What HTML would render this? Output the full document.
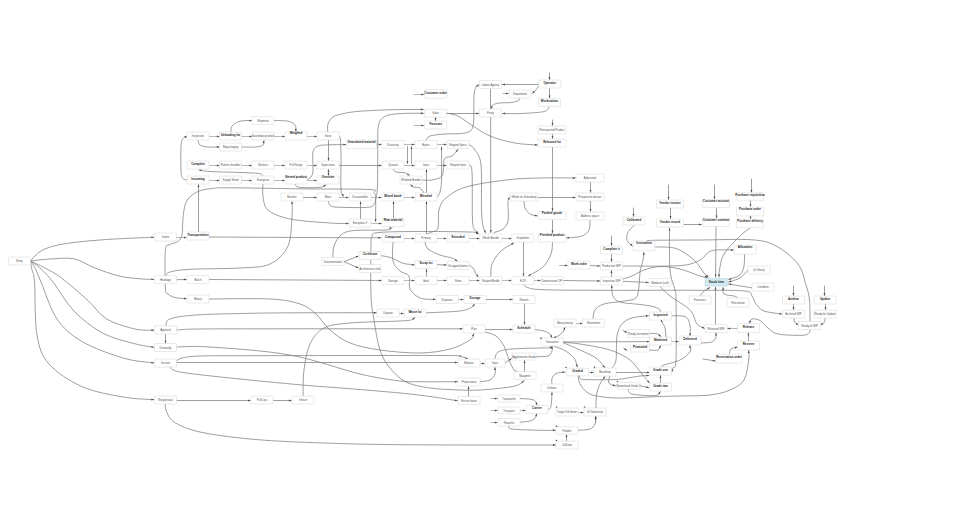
<!DOCTYPE html>
<html lang="en">
<head>
<meta charset="utf-8">
<title>Process flow graph</title>
<style>
html,body{margin:0;padding:0;background:#ffffff;}
body{width:978px;height:512px;overflow:hidden;font-family:"Liberation Sans",sans-serif;}
svg{display:block;}
svg text{font-family:"Liberation Sans",sans-serif;font-size:2.7px;fill:#4e4e4e;text-anchor:middle;}
svg text.b{font-weight:bold;font-size:3px;fill:#1c1c1c;}
</style>
</head>
<body>
<svg width="978" height="512" viewBox="0 0 978 512">
<g fill="none" stroke="#7d7d7d" stroke-width="0.75" stroke-linecap="round">
<path d="M30.5 261C32.25 259.33 35.83 253.78 41 251C46.17 248.22 51.25 246.17 61.5 244.3C71.75 242.43 87.08 240.98 102.5 239.8C117.92 238.62 145.42 237.63 154 237.2"/>
<path d="M30.5 261C33.75 260.67 42.75 259.37 50 259C57.25 258.63 66.67 257.37 74 258.8C81.33 260.23 86.5 264.73 94 267.6C101.5 270.47 111.33 274.13 119 276C126.67 277.87 134.17 278.22 140 278.8C145.83 279.38 151.67 279.38 154 279.5"/>
<path d="M30.5 261C32.92 262.17 39.83 265.17 45 268C50.17 270.83 54.33 272.58 61.5 278C68.67 283.42 80.48 293.67 88 300.5C95.52 307.33 98.77 314.25 106.6 319C114.43 323.75 127.1 327.13 135 329C142.9 330.87 150.83 330 154 330.2"/>
<path d="M30.5 261C32.08 262.17 36.25 264.5 40 268C43.75 271.5 47.33 274.83 53 282C58.67 289.17 65.75 302.5 74 311C82.25 319.5 92.33 327.53 102.5 333C112.67 338.47 126.42 341.42 135 343.8C143.58 346.18 150.83 346.72 154 347.3"/>
<path d="M30.5 261C31.25 262.17 33.25 264.5 35 268C36.75 271.5 37.33 273.5 41 282C44.67 290.5 50.17 309.08 57 319C63.83 328.92 71 335 82 341.5C93 348 111 354.42 123 358C135 361.58 148.83 362.17 154 363"/>
<path d="M30.5 261C30.75 262.5 31.33 266.5 32 270C32.67 273.5 33.67 271.17 34.5 282C35.33 292.83 34.58 321.33 37 335C39.42 348.67 41.5 355.4 49 364C56.5 372.6 69.67 381.1 82 386.6C94.33 392.1 111 394.82 123 397C135 399.18 148.83 399.25 154 399.7"/>
<path stroke="#a2a2a2" d="M176.5 237.5L186.5 237.5"/>
<path d="M198.5 232L198.5 184.5"/>
<path d="M209 237C224.17 237.08 271.33 237.37 300 237.5C328.67 237.63 367.5 237.75 381 237.8"/>
<path d="M176.5 279.7L186.5 279.5"/>
<path d="M209 279.5C224.17 279.58 271.25 279.83 300 280C328.75 280.17 367.92 280.42 381.5 280.5"/>
<path d="M166 275.7C166.67 275.08 166 273.07 170 272C174 270.93 178.33 269.97 190 269.3C201.67 268.63 226.67 268.88 240 268C253.33 267.12 262 267.67 270 264C278 260.33 284.33 254 288 246C291.67 238 291.33 223.42 292 216C292.67 208.58 292 203.92 292 201.5"/>
<path d="M328 201C328.5 201.83 329 204.95 331 206C333 207.05 333.83 207.08 340 207.3C346.17 207.52 362.33 207.85 368 207.3C373.67 206.75 372.67 205.55 374 204C375.33 202.45 375.42 201.17 376 198C376.58 194.83 377.2 194.67 377.5 185C377.8 175.33 377.72 149.33 377.8 140C377.88 130.67 377.6 132.25 378 129C378.4 125.75 378.82 122.72 380.2 120.5C381.58 118.28 383.5 116.82 386.3 115.7C389.1 114.58 393.05 114.2 397 113.8C400.95 113.4 405.58 113.38 410 113.3C414.42 113.22 421.25 113.3 423.5 113.3"/>
<path d="M375.6 221.5C375.6 217.58 375.87 202.83 375.6 198C375.33 193.17 375.1 193.92 374 192.5C372.9 191.08 381.33 190.12 369 189.5C356.67 188.88 323.17 189.08 300 188.8C276.83 188.52 244.67 187.85 230 187.8C215.33 187.75 217.33 187.88 212 188.5C206.67 189.12 202 189.75 198 191.5C194 193.25 190.33 195.92 188 199C185.67 202.08 184.9 205.67 184 210C183.1 214.33 182.93 220.83 182.6 225C182.27 229.17 182.77 232.25 182 235C181.23 237.75 180 239.92 178 241.5C176 243.08 172.1 243.08 170 244.5C167.9 245.92 166.17 242.75 165.4 250C164.63 257.25 164.97 280.67 165.4 288C165.83 295.33 166.4 292.42 168 294C169.6 295.58 171.92 296.7 175 297.5C178.08 298.3 184.58 298.58 186.5 298.8"/>
<path stroke="#a2a2a2" d="M209 136.5L219.5 136.5"/>
<path stroke="#a2a2a2" d="M241.5 136.5L252 136.5"/>
<path stroke="#a2a2a2" d="M274 136.5L285 136.5"/>
<path stroke="#a2a2a2" d="M307 136.5L317 136.5"/>
<path stroke="#a2a2a2" d="M209 165.5L219.5 165.5"/>
<path stroke="#a2a2a2" d="M241.5 165.5L252 165.5"/>
<path stroke="#a2a2a2" d="M274 165.5L285 165.5"/>
<path stroke="#a2a2a2" d="M307 165.5L317 165.5"/>
<path stroke="#a2a2a2" d="M209 180.5L219.5 180.5"/>
<path stroke="#a2a2a2" d="M241.5 180.5L252 180.5"/>
<path stroke="#a2a2a2" d="M274 180.5L285 180.5"/>
<path stroke="#a2a2a2" d="M307 180.5L317 180.5"/>
<path d="M231 132C231.17 131 230.5 127.8 232 126C233.5 124.2 236.67 122.12 240 121.2C243.33 120.28 250 120.62 252 120.5"/>
<path d="M274 120.5C276.33 120.62 284.5 120.45 288 121.2C291.5 121.95 293.67 123.28 295 125C296.33 126.72 295.83 130.42 296 131.5"/>
<path d="M198 140C198.33 140.83 198.33 143.83 200 145C201.67 146.17 204.75 146.67 208 147C211.25 147.33 217.58 147 219.5 147"/>
<path d="M241.5 147C243.92 147 252.42 147.33 256 147C259.58 146.67 261.67 146.08 263 145C264.33 143.92 263.83 141.25 264 140.5"/>
<path d="M187 180C186.25 179.67 183.5 179.67 182.5 178C181.5 176.33 181.25 175.33 181 170C180.75 164.67 180.67 151.25 181 146C181.33 140.75 182 140.17 183 138.5C184 136.83 186.33 136.42 187 136"/>
<path d="M339 165.5L381.5 165.5"/>
<path d="M263 176C262.33 175.58 262.83 174.08 259 173.5C255.17 172.92 248.17 172.83 240 172.5C231.83 172.17 216.83 171.92 210 171.5C203.17 171.08 200.83 170.25 199 170"/>
<path d="M327.7 132C327.75 130.67 327.2 126.45 328 124C328.8 121.55 330.08 119 332.5 117.3C334.92 115.6 338.25 114.78 342.5 113.8C346.75 112.82 350.25 112.07 358 111.4C365.75 110.73 378.08 110.13 389 109.8C399.92 109.47 417.75 109.47 423.5 109.4"/>
<path d="M328.5 140L328.5 160.5"/>
<path d="M339 136C339.25 136.67 340.17 136 340.5 140C340.83 144 340.92 151.67 341 160C341.08 168.33 340.58 183.92 341 190C341.42 196.08 343.08 195.42 343.5 196.5"/>
<path d="M307 179.5C307.67 179.08 310 178.58 311 177C312 175.42 312.67 174.17 313 170C313.33 165.83 312.17 156 313 152C313.83 148 315.17 147.2 318 146C320.83 144.8 325.33 145.03 330 144.8C334.67 144.57 343.33 144.63 346 144.6"/>
<path d="M328.5 169.5L328.5 175.5"/>
<path d="M295 184C295.5 184.5 295.5 186.37 298 187C300.5 187.63 306 187.8 310 187.8C314 187.8 319.33 187.5 322 187C324.67 186.5 325.33 185.17 326 184.8"/>
<path d="M263 184C263 186 262.17 191.67 263 196C263.83 200.33 263.5 206.17 268 210C272.5 213.83 279.67 216.83 290 219C300.33 221.17 320.25 222.25 330 223C339.75 223.75 345.42 223.42 348.5 223.5"/>
<path d="M303 197.5L317 197.5"/>
<path stroke="#a2a2a2" d="M339 197.5L348.5 197.5"/>
<path d="M360.5 219L360.5 201.5"/>
<path stroke="#a2a2a2" d="M371 223.5L381.5 223.5"/>
<path stroke="#a2a2a2" d="M371 197.5L381.5 197.5"/>
<path d="M393.5 218.5L393.5 201.5"/>
<path stroke="#a2a2a2" d="M404 197.5L414.5 197.5"/>
<path stroke="#a2a2a2" d="M376 144.5L381.5 144.5"/>
<path stroke="#a2a2a2" d="M404 144.5L414.5 144.5"/>
<path stroke="#a2a2a2" d="M437 144.5L446.5 144.5"/>
<path stroke="#a2a2a2" d="M404 165.5L414.5 165.5"/>
<path stroke="#a2a2a2" d="M437 165.5L446.5 165.5"/>
<path d="M407.5 146.5L407.5 163.5"/>
<path d="M411.5 163.5L411.5 146.5"/>
<path d="M437 197C437.5 196.17 439.25 194.83 440 192C440.75 189.17 441.25 187.5 441.5 180C441.75 172.5 441.5 152.5 441.5 147"/>
<path d="M426.5 234L426.5 201.5"/>
<path d="M426.5 193L426.5 169.5"/>
<path d="M393 169C393.5 169.5 394 171.37 396 172C398 172.63 402.72 172.22 405 172.8C407.28 173.38 408.92 175.05 409.7 175.5"/>
<path d="M424 193C423.33 192.17 421.83 189 420 188C418.17 187 414.58 187.58 413 187C411.42 186.42 410.92 184.92 410.5 184.5"/>
<path d="M422 180C423.67 180 428.67 180.67 432 180C435.33 179.33 440.08 178.5 442 176C443.92 173.5 443 168 443.5 165C444 162 443.58 159.5 445 158C446.42 156.5 449.83 157.42 452 156C454.17 154.58 457 150.58 458 149.5"/>
<path d="M469 144.5C470 145.42 473 146.58 475 150C477 153.42 479.92 155 481 165C482.08 175 481.17 199.83 481.5 210C481.83 220.17 482.33 222.17 483 226C483.67 229.83 485.08 231.83 485.5 233"/>
<path d="M469 165C469.5 166.17 471.42 162.83 472 172C472.58 181.17 472 210.33 472.5 220C473 229.67 474.03 227.75 475 230C475.97 232.25 477.75 232.92 478.3 233.5"/>
<path stroke="#a2a2a2" d="M414 94.5L424 94.5"/>
<path stroke="#a2a2a2" d="M414 125.5L424 125.5"/>
<path d="M435.5 117.3L435.5 120.7"/>
<path d="M446 113.5L479 113.5"/>
<path d="M446 113C448 113.5 454 114.17 458 116C462 117.83 464.67 120.67 470 124C475.33 127.33 482.5 132.83 490 136C497.5 139.17 507.08 141.5 515 143C522.92 144.5 533.75 144.67 537.5 145"/>
<path d="M426 140.5C426.67 139.75 426.83 137.08 430 136C433.17 134.92 439.17 134.5 445 134C450.83 133.5 460.33 134.33 465 133C469.67 131.67 471.5 132.17 473 126C474.5 119.83 473.5 102.5 474 96C474.5 89.5 475.17 88.92 476 87C476.83 85.08 478.5 84.92 479 84.5"/>
<path d="M539.5 84.5L502.3 84.5"/>
<path d="M539.5 84.5C538.92 85.42 537.2 88.53 536 90C534.8 91.47 532.92 92.75 532.3 93.3"/>
<path stroke="#a2a2a2" d="M503 93.5L508.5 93.5"/>
<path d="M520 97.8C519.67 98.28 519.5 99.92 518 100.7C516.5 101.48 514.4 102.08 511 102.5C507.6 102.92 500.72 102.65 497.6 103.2C494.48 103.75 493.4 104.87 492.3 105.8C491.2 106.73 491.22 108.3 491 108.8"/>
<path d="M490.5 88.5L490.5 108.5"/>
<path d="M490.6 117L490.8 232.5"/>
<path d="M549.2 106.3C548.95 106.85 548.97 108.65 547.7 109.6C546.43 110.55 546.05 111.35 541.6 112C537.15 112.65 527.52 113.25 521 113.5C514.48 113.75 505.58 113.5 502.5 113.5"/>
<path d="M549.5 73L549.5 79.7"/>
<path d="M549.5 88L549.5 98.2"/>
<path d="M552.5 120L552.5 125.5"/>
<path d="M552.5 134L552.5 138.5"/>
<path d="M552.5 147.5L552.5 210.8"/>
<path d="M552.5 220L552.5 233.2"/>
<path stroke="#a2a2a2" d="M404 238.5L414.5 238.5"/>
<path stroke="#a2a2a2" d="M437 238.5L446.5 238.5"/>
<path stroke="#a2a2a2" d="M469 238.5L479.5 238.5"/>
<path stroke="#a2a2a2" d="M502 238.5L511.5 238.5"/>
<path d="M426 234C427 233.67 430 233 432 232C434 231 436.83 231.67 438 228C439.17 224.33 437.67 215 439 210C440.33 205 441.5 201.83 446 198C450.5 194.17 456 190 466 187C476 184 493.67 181.5 506 180C518.33 178.5 528.42 178.33 540 178C551.58 177.67 569.58 178 575.5 178"/>
<path d="M494 232.5C495.5 231.92 500.67 230.92 503 229C505.33 227.08 507.17 225.17 508 221C508.83 216.83 507.95 207.58 508 204C508.05 200.42 507.97 200.62 508.3 199.5C508.63 198.38 509.72 197.67 510 197.3"/>
<path d="M538 197.5L575.5 197.5"/>
<path d="M524 201C524.17 202.17 524 205.83 525 208C526 210.17 527.92 212.67 530 214C532.08 215.33 536.25 215.67 537.5 216"/>
<path d="M590.5 182L590.5 192.5"/>
<path d="M590.5 201L590.5 211.5"/>
<path d="M590 220C589.83 221.67 590.33 227.33 589 230C587.67 232.67 585.75 234.67 582 236C578.25 237.33 569.08 237.67 566.5 238"/>
<path d="M552.5 242.5C552.25 244.42 552.58 249.92 551 254C549.42 258.08 546.78 263.37 543 267C539.22 270.63 530.75 274.33 528.3 275.8"/>
<path d="M523.5 242L523.5 276"/>
<path d="M490.8 276.5C491 274.42 490.3 268.25 492 264C493.7 259.75 497.38 254.5 501 251C504.62 247.5 511.58 244.33 513.7 243"/>
<path d="M344 261.7L358.5 256"/>
<path d="M344 261.7L358.5 268"/>
<path d="M333 257.5C333.17 255.58 332.67 249.75 334 246C335.33 242.25 337.67 237.58 341 235C344.33 232.42 346.5 231.33 354 230.5C361.5 229.67 379.67 230.5 386 230C392.33 229.5 391 227.92 392 227.5"/>
<path d="M381 255.6C382.83 256 388.5 256.77 392 258C395.5 259.23 398.25 261.83 402 263C405.75 264.17 412.42 264.67 414.5 265"/>
<path d="M393 242C393 245.17 391.83 256.17 393 261C394.17 265.83 397.33 268.5 400 271C402.67 273.5 407.33 273 409 276C410.67 279 408.17 285.33 410 289C411.83 292.67 415.75 296.25 420 298C424.25 299.75 432.92 299.25 435.5 299.5"/>
<path d="M478.5 233.7C477.08 233.42 480.58 232.37 470 232C459.42 231.63 430.5 231.38 415 231.5C399.5 231.62 384.17 231.78 377 232.7C369.83 233.62 373 234.95 372 237C371 239.05 371.17 235.33 371 245C370.83 254.67 370.5 282.5 371 295C371.5 307.5 372.5 310.83 374 320C375.5 329.17 377.33 342 380 350C382.67 358 385.67 362.67 390 368C394.33 373.33 399.33 378.67 406 382C412.67 385.33 421 386.67 430 388C439 389.33 451.67 389.67 460 390C468.33 390.33 471.67 390.5 480 390C488.33 389.5 503.17 388.08 510 387C516.83 385.92 518.67 384.58 521 383.5C523.33 382.42 523.5 381 524 380.5"/>
<path stroke="#a2a2a2" d="M404 280.5L414.5 280.5"/>
<path stroke="#a2a2a2" d="M437 280.5L446.5 280.5"/>
<path stroke="#a2a2a2" d="M469 280.5L479.5 280.5"/>
<path stroke="#a2a2a2" d="M502 280.5L511.5 280.5"/>
<path stroke="#a2a2a2" d="M534 280.5L540.5 280.5"/>
<path d="M563.5 280.5L600 281"/>
<path d="M426.5 276.5L426.5 269"/>
<path d="M437 264.7L446.5 265"/>
<path d="M425 242C425.5 243.17 425.5 246.83 428 249C430.5 251.17 436 253.5 440 255C444 256.5 449.08 257 452 258C454.92 259 456.58 260.5 457.5 261"/>
<path d="M469 265.3C469.67 265.75 471.83 266.55 473 268C474.17 269.45 475.08 272.5 476 274C476.92 275.5 478.08 276.5 478.5 277"/>
<path d="M523.6 284.5C524.25 285 524.27 286.63 527.5 287.5C530.73 288.37 530.92 289.23 543 289.7C555.08 290.17 573.83 290.2 600 290.3C626.17 290.4 675.83 290.18 700 290.3C724.17 290.42 736.33 290.05 745 291C753.67 291.95 750.17 293.83 752 296C753.83 298.17 754 301.5 756 304C758 306.5 759.67 309.33 764 311C768.33 312.67 779 313.5 782 314"/>
<path stroke="#a2a2a2" d="M458 299.5L463.5 299.5"/>
<path d="M486 299.5L512.5 299.5"/>
<path d="M524.5 303.5L524.5 324.5"/>
<path d="M166 326C166.67 324.83 165 320.83 170 319C175 317.17 182.67 315.95 196 315C209.33 314.05 232.67 313.67 250 313.3C267.33 312.93 278.92 312.9 300 312.8C321.08 312.7 363.75 312.72 376.5 312.7"/>
<path stroke="#a2a2a2" d="M399 313.5L403.5 313.5"/>
<path d="M426 312.8C431.67 312.5 452.33 311.97 460 311C467.67 310.03 469.55 308.17 472 307C474.45 305.83 474.25 304.5 474.7 304"/>
<path d="M303 396C303.17 391.67 302.83 378.67 304 370C305.17 361.33 306.67 351 310 344C313.33 337 317.33 331.5 324 328C330.67 324.5 337.33 324.17 350 323C362.67 321.83 389.67 321.55 400 321C410.33 320.45 409.5 320.32 412 319.7C414.5 319.08 414.5 317.7 415 317.3"/>
<path d="M176.5 330C180.42 329.83 179.42 329.2 200 329C220.58 328.8 256.25 328.83 300 328.8C343.75 328.77 435.42 328.8 462.5 328.8"/>
<path d="M485 329.5L512.5 329.5"/>
<path d="M209 299C219.17 299 254.83 298.17 270 299C285.17 299.83 292.33 301.5 300 304C307.67 306.5 311 309.67 316 314C321 318.33 324.33 325.17 330 330C335.67 334.83 341.67 339.67 350 343C358.33 346.33 368.33 348.33 380 350C391.67 351.67 408.33 353.17 420 353C431.67 352.83 441.67 351.17 450 349C458.33 346.83 466 342.53 470 340C474 337.47 473.33 334.83 474 333.8"/>
<path d="M165.5 334L165.5 343.3"/>
<path d="M176.5 347C182.08 347 191.08 345.67 210 347C228.92 348.33 265 350.5 290 355C315 359.5 341.67 369.67 360 374C378.33 378.33 390 379.72 400 381C410 382.28 410.42 381.58 420 381.7C429.58 381.82 451.25 381.7 457.5 381.7"/>
<path d="M176 361.5C177 360.92 178 358.92 182 358C186 357.08 188.67 356.38 200 356C211.33 355.62 210 355.78 250 355.7C290 355.62 405 355.37 440 355.5C475 355.63 455.33 355.95 460 356.5C464.67 357.05 466.67 358.42 468 358.8"/>
<path d="M176.5 362.5L457.5 362.5"/>
<path d="M170 367C171.67 367.83 170 370.17 180 372C190 373.83 209.67 375.83 230 378C250.33 380.17 282.67 383.27 302 385C321.33 386.73 329.67 387.07 346 388.4C362.33 389.73 386 391.65 400 393C414 394.35 420.42 395.2 430 396.5C439.58 397.8 452.92 400.08 457.5 400.8"/>
<path d="M176.5 400.5L250.5 400.5"/>
<path d="M273 400.5L291.5 400.5"/>
<path d="M165.5 404C165.58 405 164.58 407 166 410C167.42 413 168.33 418.33 174 422C179.67 425.67 187.33 429.17 200 432C212.67 434.83 231.67 437.25 250 439C268.33 440.75 285 441.55 310 442.5C335 443.45 359.08 444.28 400 444.7C440.92 445.12 529.58 444.95 555.5 445"/>
<path d="M485 332C486.83 332.67 492.83 333.67 496 336C499.17 338.33 501.83 342 504 346C506.17 350 507.33 356 509 360C510.67 364 512.58 367.92 514 370C515.42 372.08 516.92 372.08 517.5 372.5"/>
<path d="M535 329.5C536.5 329.75 541.5 330.25 544 331C546.5 331.75 548.67 332.87 550 334C551.33 335.13 551.67 337.17 552 337.8"/>
<path d="M565 327.3C564.67 328.08 564.17 330.55 563 332C561.83 333.45 559.58 335 558 336C556.42 337 554.25 337.67 553.5 338"/>
<path stroke="#a2a2a2" d="M576 323.5L582.5 323.5"/>
<path d="M563 342L649.5 341.6"/>
<path d="M563 342.3C565.83 342.58 572.17 342.72 580 344C587.83 345.28 601.67 347.33 610 350C618.33 352.67 624.67 356 630 360C635.33 364 638.75 370.17 642 374C645.25 377.83 648.25 381.5 649.5 383"/>
<path d="M563 342.6C565.83 343.83 574.5 347.43 580 350C585.5 352.57 591.83 355.03 596 358C600.17 360.97 603.5 366.17 605 367.8"/>
<path d="M495 359C495.5 357.83 495.17 353.67 498 352C500.83 350.33 505 349.67 512 349C519 348.33 533.67 348.2 540 348C546.33 347.8 548 348.08 550 347.8C552 347.52 551.67 346.55 552 346.3"/>
<path d="M536 356.7C538 356.58 545.33 356.95 548 356C550.67 355.05 551.33 352.62 552 351C552.67 349.38 552 347.08 552 346.3"/>
<path d="M554 346.5C555.67 347.08 560.67 348.08 564 350C567.33 351.92 571.77 355.17 574 358C576.23 360.83 576.83 365.5 577.4 367"/>
<path stroke="#a2a2a2" d="M480 363.5L484.5 363.5"/>
<path d="M505 363L511.6 358.5"/>
<path d="M524.5 371.5L524.5 360.3"/>
<path d="M480 381.7C481.67 381.42 487.5 381.28 490 380C492.5 378.72 494.17 376.12 495 374C495.83 371.88 495 368.42 495 367.3"/>
<path d="M468.5 396.5L468.5 386.3"/>
<path stroke="#a2a2a2" d="M491 398.5L497.5 398.5"/>
<path stroke="#a2a2a2" d="M491 410.5L497.5 410.5"/>
<path stroke="#a2a2a2" d="M491 422.5L497.5 422.5"/>
<path d="M520 398.5C522 398.67 529.33 398.92 532 399.5C534.67 400.08 535.17 401.03 536 402C536.83 402.97 536.83 404.75 537 405.3"/>
<path stroke="#a2a2a2" d="M520 410.5L525.5 410.5"/>
<path d="M520 422.3C521.67 422.08 527.5 421.72 530 421C532.5 420.28 533.83 419.2 535 418C536.17 416.8 536.67 414.5 537 413.8"/>
<path d="M548 410C548.5 409.33 550.33 408.95 551 406C551.67 403.05 551.83 394.58 552 392.3"/>
<path d="M552 384C552 383.08 551.33 380.25 552 378.5C552.67 376.75 553.83 374.58 556 373.5C558.17 372.42 563.5 372.25 565 372"/>
<path d="M509 426.3C509.5 426.75 506.83 428.33 512 429C517.17 429.67 532.75 430.08 540 430.3C547.25 430.52 552.92 430.3 555.5 430.3"/>
<path d="M578 430.3C580 430.08 587.17 430.05 590 429C592.83 427.95 594 426.12 595 424C596 421.88 595.83 417.58 596 416.3"/>
<path d="M566.5 441L566.5 434.5"/>
<path stroke="#a2a2a2" d="M578 412.5L583.5 412.5"/>
<path d="M595.5 422L595.5 416.3"/>
<path d="M596 408C596.08 405.83 595.83 399 596.5 395C597.17 391 598.58 387.12 600 384C601.42 380.88 604.17 377.58 605 376.3"/>
<path stroke="#a2a2a2" d="M589 372.5L593.5 372.5"/>
<path d="M578 374.8C578.33 376.33 578.33 380.97 580 384C581.67 387.03 584.67 390.92 588 393C591.33 395.08 594.67 395.67 600 396.5C605.33 397.33 610 398 620 398C630 398 650 396.83 660 396.5C670 396.17 671.67 396.25 680 396C688.33 395.75 701.67 396 710 395C718.33 394 724.33 392.5 730 390C735.67 387.5 740.88 385 744 380C747.12 375 747.92 364.95 748.7 360C749.48 355.05 748.7 351.92 748.7 350.3"/>
<path d="M616 372.5L649.5 372.5"/>
<path d="M579.3 375.5C579.55 376.08 579.02 378.3 580.8 379C582.58 379.7 584.13 379.62 590 379.7C595.87 379.78 609.33 379.85 616 379.5C622.67 379.15 626 378.18 630 377.6C634 377.02 636.83 376.35 640 376C643.17 375.65 647.5 375.58 649 375.5"/>
<path d="M612 368C612.67 366.67 615.17 365.33 616 360C616.83 354.67 616 342 617 336C618 330 619.5 327 622 324C624.5 321 627.58 319.38 632 318C636.42 316.62 645.75 316.08 648.5 315.7"/>
<path d="M610 376C609.75 377 608.17 380.5 608.5 382C608.83 383.5 610.82 384.38 612 385C613.18 385.62 615 385.58 615.6 385.7"/>
<path d="M640 385.8L649 387.7"/>
<path d="M628 389.3C628.67 390.08 628.33 392.93 632 394C635.67 395.07 645.67 395.53 650 395.7C654.33 395.87 656.28 395.7 658 395C659.72 394.3 659.92 392.08 660.3 391.5"/>
<path d="M660.5 383L660.5 375.5"/>
<path d="M661 367C661.5 366.67 660.83 366.17 664 365C667.17 363.83 675.67 362.17 680 360C684.33 357.83 688.33 354.45 690 352C691.67 349.55 690 346.42 690 345.3"/>
<path d="M671.8 372C672 371.33 672.3 370 673 368C673.7 366 675.5 371.33 676 360C676.5 348.67 676.17 311.67 676 300C675.83 288.33 676 295 675 290C674 285 670.92 280.33 670 270C669.08 259.67 669.58 235 669.5 228"/>
<path d="M623 330.5L627 332.6"/>
<path d="M650 333.5C651.33 333.58 656.17 333.45 658 334C659.83 334.55 660.5 336.33 661 336.8"/>
<path d="M623.5 348L627 350.5"/>
<path d="M649.5 350C650.92 350 656.12 350.75 658 350C659.88 349.25 660.33 346.25 660.8 345.5"/>
<path d="M666 337C665.83 335.5 665.67 330.5 665 328C664.33 325.5 662.67 323.45 662 322C661.33 320.55 661.17 319.75 661 319.3"/>
<path stroke="#a2a2a2" d="M671.5 341.5L678.5 341.5"/>
<path d="M672 315.7C674.33 315.92 683 315.28 686 317C689 318.72 689.33 322.83 690 326C690.67 329.17 690 334.33 690 336"/>
<path d="M701 343C702.83 342.83 709.5 343 712 342C714.5 341 715.33 338.53 716 337C716.67 335.47 716 333.5 716 332.8"/>
<path d="M593 319C593.33 317.5 593.17 312.5 595 310C596.83 307.5 599.17 305.5 604 304C608.83 302.5 618.67 302 624 301C629.33 300 633.5 300.5 636 298C638.5 295.5 638.33 290.33 639 286C639.67 281.67 639.33 276.33 640 272C640.67 267.67 642.33 263.28 643 260C643.67 256.72 643.83 253.58 644 252.3"/>
<path d="M611.6 285.3C611.83 287.08 611.6 293.22 613 296C614.4 298.78 615.5 300.58 620 302C624.5 303.42 634.67 303.78 640 304.5C645.33 305.22 648.83 305.55 652 306.3C655.17 307.05 657.57 308.05 659 309C660.43 309.95 660.33 311.5 660.6 312"/>
<path d="M660 286.5C661.67 288.08 665 292.08 670 296C675 299.92 685.5 305.33 690 310C694.5 314.67 694.58 320.92 697 324C699.42 327.08 703.25 327.75 704.5 328.5"/>
<path d="M623 281.3L648.5 282.5"/>
<path d="M611.5 277L611.5 270.3"/>
<path d="M611.5 254L611.5 261.7"/>
<path d="M611.5 236L611.5 245.7"/>
<path stroke="#a2a2a2" d="M559.5 265.5L567.5 265.5"/>
<path d="M590 265.5L600 266"/>
<path d="M623 266C632.5 265.93 667.17 266.6 680 265.6C692.83 264.6 695.33 262.18 700 260C704.67 257.82 705.33 254.17 708 252.5C710.67 250.83 711.75 250.42 716 250C720.25 249.58 730.58 250 733.5 250"/>
<path d="M623 279C624.5 278.5 628.5 277.5 632 276C635.5 274.5 639.33 271.58 644 270C648.67 268.42 654 266.67 660 266.5C666 266.33 673.33 267.42 680 269C686.67 270.58 695.42 274.63 700 276C704.58 277.37 706.25 277 707.5 277.2"/>
<path d="M655 247C658.5 247.25 669.5 246.33 676 248.5C682.5 250.67 689.33 255.92 694 260C698.67 264.08 701.58 270.13 704 273C706.42 275.87 707.75 276.5 708.5 277.2"/>
<path d="M633.5 208L633.5 216.7"/>
<path d="M634.5 225.3C633.67 226.08 630.78 228.22 629.5 230C628.22 231.78 627.05 234 626.8 236C626.55 238 627.05 240.33 628 242C628.95 243.67 631.75 245.33 632.5 246"/>
<path d="M810 321.5C809.92 317.92 810.17 306.08 809.5 300C808.83 293.92 807.92 291 806 285C804.08 279 803 270.5 798 264C793 257.5 783.67 250.03 776 246C768.33 241.97 764.67 240.8 752 239.8C739.33 238.8 715.33 239.93 700 240C684.67 240.07 668.33 240.12 660 240.2C651.67 240.28 652.33 240.23 650 240.5C647.67 240.77 646.67 241.58 646 241.8"/>
<path d="M810 329.5C809.83 330.08 810.33 332.03 809 333C807.67 333.97 807.17 335.13 802 335.3C796.83 335.47 783.67 335.22 778 334C772.33 332.78 771 330.25 768 328C765 325.75 762.67 322 760 320.5C757.33 319 753.83 318.53 752 319C750.17 319.47 749.5 322.58 749 323.3"/>
<path d="M668.5 185L668.5 199.7"/>
<path d="M670.5 208L670.5 218.7"/>
<path d="M683.5 224.5L701.5 224.5"/>
<path d="M714.5 185L714.5 199.2"/>
<path d="M716.5 208L716.5 218.2"/>
<path d="M716 227L715.6 277"/>
<path d="M751.5 179L751.5 192.5"/>
<path d="M750.5 200.5L750.5 206.8"/>
<path d="M750.5 216L750.5 219.2"/>
<path d="M750 228C748.33 229.33 744.33 231.67 740 236C735.67 240.33 727.42 248.33 724 254C720.58 259.67 720.33 266.17 719.5 270C718.67 273.83 719.08 275.83 719 277"/>
<path d="M744.5 254C744.42 256 744.75 262.5 744 266C743.25 269.5 742.58 272.75 740 275C737.42 277.25 730.42 278.75 728.5 279.5"/>
<path d="M748 270C746.67 271.33 743.25 276 740 278C736.75 280 730.42 281.33 728.5 282"/>
<path d="M753 288L728.5 284"/>
<path d="M700 296C700.67 295.17 702.33 292.42 704 291C705.67 289.58 709 288.08 710 287.5"/>
<path d="M715.5 324.5L715.5 287"/>
<path d="M738 298C737.33 297.67 736.33 296.67 734 296C731.67 295.33 725.83 295.45 724 294C722.17 292.55 723.17 288.42 723 287.3"/>
<path stroke="#a2a2a2" d="M737.5 328.5L727.5 328.5"/>
<path d="M748.5 341L748.5 332.7"/>
<path d="M729.5 354C729.75 353.17 729.67 350.17 731 349C732.33 347.83 736.42 347.33 737.5 347"/>
<path d="M703 359L715.5 361"/>
<path d="M793.5 286L793.5 295.7"/>
<path d="M793.5 304L793.5 309.7"/>
<path d="M824.5 286L824.5 295.7"/>
<path d="M825.5 304L825.5 309.7"/>
<path d="M794 318C794.08 318.67 793.78 320.83 794.5 322C795.22 323.17 797.67 324.5 798.3 325"/>
<path d="M825 318C824.92 318.67 825.22 320.83 824.5 322C823.78 323.17 821.33 324.5 820.7 325"/>
</g>
<path fill="#4a4a4a" d="M154 237.2L151.45 238.28L151.36 236.38ZM154 279.5L151.36 280.32L151.45 278.42ZM154 330.2L151.35 330.98L151.47 329.09ZM154 347.3L151.27 347.76L151.62 345.89ZM154 363L151.28 363.52L151.58 361.65ZM154 399.7L151.33 400.42L151.49 398.53ZM186.5 237.5L183.9 238.45L183.9 236.55ZM198.5 184.5L199.45 187.1L197.55 187.1ZM381 237.8L378.4 238.74L378.4 236.84ZM186.5 279.5L183.92 280.5L183.88 278.6ZM381.5 280.5L378.89 281.43L378.91 279.53ZM292 201.5L292.95 204.1L291.05 204.1ZM423.5 113.3L420.9 114.25L420.9 112.35ZM186.5 298.8L183.81 299.45L184.02 297.56ZM375.6 221.5L374.65 218.9L376.55 218.9ZM219.5 136.5L216.9 137.45L216.9 135.55ZM252 136.5L249.4 137.45L249.4 135.55ZM285 136.5L282.4 137.45L282.4 135.55ZM317 136.5L314.4 137.45L314.4 135.55ZM219.5 165.5L216.9 166.45L216.9 164.55ZM252 165.5L249.4 166.45L249.4 164.55ZM285 165.5L282.4 166.45L282.4 164.55ZM317 165.5L314.4 166.45L314.4 164.55ZM219.5 180.5L216.9 181.45L216.9 179.55ZM252 180.5L249.4 181.45L249.4 179.55ZM285 180.5L282.4 181.45L282.4 179.55ZM317 180.5L314.4 181.45L314.4 179.55ZM252 120.5L249.46 121.6L249.35 119.7ZM296 131.5L294.67 129.07L296.54 128.79ZM219.5 147L216.9 147.95L216.9 146.05ZM264 140.5L264.36 143.24L262.51 142.83ZM187 136L185.3 138.18L184.29 136.57ZM381.5 165.5L378.9 166.45L378.9 164.55ZM199 170L201.7 169.41L201.45 171.29ZM423.5 109.4L420.91 110.38L420.89 108.48ZM328.5 160.5L327.55 157.9L329.45 157.9ZM343.5 196.5L341.68 194.41L343.45 193.73ZM346 144.6L343.41 145.58L343.39 143.68ZM328.5 175.5L327.55 172.9L329.45 172.9ZM328.5 169.5L329.45 172.1L327.55 172.1ZM326 184.8L324.18 186.89L323.26 185.22ZM348.5 223.5L345.88 224.38L345.93 222.48ZM317 197.5L314.4 198.45L314.4 196.55ZM348.5 197.5L345.9 198.45L345.9 196.55ZM360.5 201.5L361.45 204.1L359.55 204.1ZM381.5 223.5L378.9 224.45L378.9 222.55ZM381.5 197.5L378.9 198.45L378.9 196.55ZM393.5 201.5L394.45 204.1L392.55 204.1ZM414.5 197.5L411.9 198.45L411.9 196.55ZM381.5 144.5L378.9 145.45L378.9 143.55ZM414.5 144.5L411.9 145.45L411.9 143.55ZM446.5 144.5L443.9 145.45L443.9 143.55ZM414.5 165.5L411.9 166.45L411.9 164.55ZM446.5 165.5L443.9 166.45L443.9 164.55ZM407.5 163.5L406.55 160.9L408.45 160.9ZM411.5 146.5L412.45 149.1L410.55 149.1ZM441.5 147L442.45 149.6L440.55 149.6ZM426.5 201.5L427.45 204.1L425.55 204.1ZM426.5 169.5L427.45 172.1L425.55 172.1ZM409.7 175.5L406.97 175.03L407.92 173.38ZM410.5 184.5L413.01 185.67L411.67 187.01ZM458 149.5L456.93 152.05L455.54 150.77ZM485.5 233L483.73 230.87L485.52 230.23ZM478.3 233.5L475.83 232.26L477.21 230.96ZM424 94.5L421.4 95.45L421.4 93.55ZM424 125.5L421.4 126.45L421.4 124.55ZM435.5 120.7L434.55 118.1L436.45 118.1ZM479 113.5L476.4 114.45L476.4 112.55ZM537.5 145L534.83 145.72L534.99 143.82ZM479 84.5L477.61 86.89L476.39 85.43ZM502.3 84.5L504.9 83.55L504.9 85.45ZM532.3 93.3L533.61 90.86L534.87 92.28ZM508.5 93.5L505.9 94.45L505.9 92.55ZM491 108.8L491.16 106.04L492.91 106.79ZM490.8 232.5L489.85 229.9L491.75 229.9ZM502.5 113.5L505.1 112.55L505.1 114.45ZM549.5 79.7L548.55 77.1L550.45 77.1ZM549.5 98.2L548.55 95.6L550.45 95.6ZM552.5 125.5L551.55 122.9L553.45 122.9ZM552.5 138.5L551.55 135.9L553.45 135.9ZM552.5 210.8L551.55 208.2L553.45 208.2ZM552.5 233.2L551.55 230.6L553.45 230.6ZM414.5 238.5L411.9 239.45L411.9 237.55ZM446.5 238.5L443.9 239.45L443.9 237.55ZM479.5 238.5L476.9 239.45L476.9 237.55ZM511.5 238.5L508.9 239.45L508.9 237.55ZM575.5 178L572.9 178.95L572.9 177.05ZM510 197.3L509.16 199.94L507.66 198.78ZM575.5 197.5L572.9 198.45L572.9 196.55ZM537.5 216L534.74 216.25L535.23 214.41ZM590.5 192.5L589.55 189.9L591.45 189.9ZM590.5 211.5L589.55 208.9L591.45 208.9ZM566.5 238L568.96 236.73L569.2 238.61ZM528.3 275.8L530.04 273.65L531.02 275.28ZM523.5 276L522.55 273.4L524.45 273.4ZM513.7 243L512.01 245.19L510.99 243.58ZM358.5 256L356.43 257.84L355.73 256.07ZM358.5 268L355.74 267.84L356.49 266.09ZM392 227.5L389.97 229.38L389.23 227.62ZM414.5 265L411.78 265.53L412.08 263.65ZM435.5 299.5L432.82 300.2L433 298.3ZM524 380.5L522.83 383.01L521.49 381.67ZM478.5 233.7L475.76 234.12L476.14 232.26ZM414.5 280.5L411.9 281.45L411.9 279.55ZM446.5 280.5L443.9 281.45L443.9 279.55ZM479.5 280.5L476.9 281.45L476.9 279.55ZM511.5 280.5L508.9 281.45L508.9 279.55ZM540.5 280.5L537.9 281.45L537.9 279.55ZM600 281L597.39 281.91L597.41 280.01ZM426.5 269L427.45 271.6L425.55 271.6ZM446.5 265L443.87 265.87L443.93 263.97ZM457.5 261L454.76 260.59L455.67 258.92ZM478.5 277L476.11 275.61L477.57 274.39ZM782 314L779.28 314.51L779.59 312.64ZM463.5 299.5L460.9 300.45L460.9 298.55ZM512.5 299.5L509.9 300.45L509.9 298.55ZM524.5 324.5L523.55 321.9L525.45 321.9ZM376.5 312.7L373.9 313.65L373.9 311.75ZM403.5 313.5L400.9 314.45L400.9 312.55ZM474.7 304L473.67 306.57L472.25 305.3ZM415 317.3L413.56 319.67L412.38 318.18ZM462.5 328.8L459.9 329.75L459.9 327.85ZM512.5 329.5L509.9 330.45L509.9 328.55ZM474 333.8L473.39 336.5L471.79 335.47ZM165.5 343.3L164.55 340.7L166.45 340.7ZM457.5 381.7L454.9 382.65L454.9 380.75ZM468 358.8L465.24 358.99L465.76 357.17ZM457.5 362.5L454.9 363.45L454.9 361.55ZM457.5 400.8L454.78 401.34L455.08 399.46ZM250.5 400.5L247.9 401.45L247.9 399.55ZM291.5 400.5L288.9 401.45L288.9 399.55ZM555.5 445L552.9 445.94L552.9 444.04ZM517.5 372.5L514.83 371.76L515.94 370.22ZM552 337.8L549.95 335.94L551.63 335.06ZM553.5 338L555.49 336.08L556.26 337.81ZM565 327.3L564.86 330.06L563.11 329.32ZM582.5 323.5L579.9 324.45L579.9 322.55ZM649.5 341.6L646.9 342.56L646.9 340.66ZM649.5 383L647.11 381.61L648.57 380.39ZM605 367.8L602.54 366.53L603.94 365.24ZM552 346.3L550.49 348.62L549.35 347.1ZM552 346.3L552.95 348.9L551.05 348.9ZM577.4 367L575.59 364.9L577.37 364.23ZM484.5 363.5L481.9 364.45L481.9 362.55ZM511.6 358.5L509.99 360.75L508.92 359.18ZM524.5 360.3L525.45 362.9L523.55 362.9ZM495 367.3L495.95 369.9L494.05 369.9ZM468.5 386.3L469.45 388.9L467.55 388.9ZM497.5 398.5L494.9 399.45L494.9 397.55ZM497.5 410.5L494.9 411.45L494.9 409.55ZM497.5 422.5L494.9 423.45L494.9 421.55ZM537 405.3L535.34 403.09L537.16 402.54ZM525.5 410.5L522.9 411.45L522.9 409.55ZM537 413.8L536.74 416.56L535.02 415.74ZM552 392.3L552.76 394.96L550.86 394.82ZM565 372L562.59 373.36L562.28 371.49ZM555.5 430.3L552.9 431.25L552.9 429.35ZM596 416.3L596.61 419L594.72 418.76ZM566.5 434.5L567.45 437.1L565.55 437.1ZM583.5 412.5L580.9 413.45L580.9 411.55ZM595.5 416.3L596.45 418.9L594.55 418.9ZM605 376.3L604.38 379L602.79 377.96ZM593.5 372.5L590.9 373.45L590.9 371.55ZM748.7 350.3L749.65 352.9L747.75 352.9ZM649.5 372.5L646.9 373.45L646.9 371.55ZM649 375.5L646.46 376.59L646.35 374.7ZM648.5 315.7L646.06 317L645.79 315.12ZM615.6 385.7L612.87 386.14L613.23 384.27ZM649 387.7L646.26 388.09L646.65 386.23ZM660.3 391.5L659.67 394.19L658.08 393.15ZM660.5 375.5L661.45 378.1L659.55 378.1ZM690 345.3L690.95 347.9L689.05 347.9ZM669.5 228L670.48 230.59L668.58 230.61ZM671.8 372L671.64 369.24L673.46 369.78ZM627 332.6L624.26 332.23L625.14 330.55ZM661 336.8L658.45 335.72L659.75 334.33ZM627 350.5L624.33 349.76L625.44 348.22ZM660.8 345.5L660.23 348.21L658.62 347.21ZM661 319.3L662.79 321.41L661.01 322.07ZM678.5 341.5L675.9 342.45L675.9 340.55ZM690 336L689.05 333.4L690.95 333.4ZM716 332.8L716.95 335.4L715.05 335.4ZM644 252.3L644.61 255L642.72 254.76ZM611.6 285.3L612.88 287.75L611 288ZM704.5 328.5L701.78 327.98L702.76 326.35ZM648.5 282.5L645.86 283.33L645.95 281.43ZM611.5 270.3L612.45 272.9L610.55 272.9ZM611.5 261.7L610.55 259.1L612.45 259.1ZM611.5 245.7L610.55 243.1L612.45 243.1ZM567.5 265.5L564.9 266.45L564.9 264.55ZM600 266L597.36 266.82L597.45 264.92ZM733.5 250L730.9 250.95L730.9 249.05ZM707.5 277.2L704.78 277.73L705.08 275.85ZM708.5 277.2L705.95 276.12L707.25 274.73ZM633.5 216.7L632.55 214.1L634.45 214.1ZM632.5 246L629.93 244.98L631.19 243.56ZM646 241.8L648.18 240.09L648.77 241.9ZM749 323.3L749.71 320.62L751.27 321.71ZM668.5 199.7L667.55 197.1L669.45 197.1ZM670.5 218.7L669.55 216.1L671.45 216.1ZM701.5 224.5L698.9 225.45L698.9 223.55ZM714.5 199.2L713.55 196.6L715.45 196.6ZM716.5 218.2L715.55 215.6L717.45 215.6ZM715.6 277L714.67 274.39L716.57 274.41ZM751.5 192.5L750.55 189.9L752.45 189.9ZM750.5 206.8L749.55 204.2L751.45 204.2ZM750.5 219.2L749.55 216.6L751.45 216.6ZM719 277L718.24 274.34L720.13 274.47ZM728.5 279.5L730.58 277.67L731.27 279.44ZM728.5 282L730.64 280.25L731.27 282.04ZM728.5 284L731.22 283.48L730.91 285.36ZM710 287.5L708.23 289.63L707.28 287.99ZM715.5 287L716.45 289.6L714.55 289.6ZM723 287.3L724.32 289.73L722.44 290.01ZM727.5 328.5L730.1 327.55L730.1 329.45ZM748.5 332.7L749.45 335.3L747.55 335.3ZM737.5 347L735.29 348.67L734.74 346.86ZM715.5 361L712.78 361.53L713.08 359.65ZM793.5 295.7L792.55 293.1L794.45 293.1ZM793.5 309.7L792.55 307.1L794.45 307.1ZM824.5 295.7L823.55 293.1L825.45 293.1ZM825.5 309.7L824.55 307.1L826.45 307.1ZM798.3 325L795.67 324.13L796.85 322.64ZM820.7 325L822.15 322.64L823.33 324.13Z"/>
<g class="nodes" opacity="0.999">
<rect x="8.5" y="257" width="22" height="8" rx="0.4" fill="#ffffff" stroke="#d8d8d8" stroke-width="0.55"/>
<text x="19.5" y="262.2">Entry</text>
<rect x="154.5" y="233" width="22" height="8" rx="0.4" fill="#ffffff" stroke="#d8d8d8" stroke-width="0.55"/>
<text x="165.5" y="238.2">Intake</text>
<rect x="187" y="232" width="22" height="8" rx="0.4" fill="#ffffff" stroke="#d8d8d8" stroke-width="0.55"/>
<text class="b" x="198" y="235.9">Transportation</text>
<rect x="154.5" y="275.7" width="22" height="8" rx="0.4" fill="#ffffff" stroke="#d8d8d8" stroke-width="0.55"/>
<text x="165.5" y="280.9">Handage</text>
<rect x="187" y="275.5" width="22" height="8" rx="0.4" fill="#ffffff" stroke="#d8d8d8" stroke-width="0.55"/>
<text x="198" y="280.7">Batch</text>
<rect x="187" y="295" width="22" height="8" rx="0.4" fill="#ffffff" stroke="#d8d8d8" stroke-width="0.55"/>
<text x="198" y="300.2">Binary</text>
<rect x="154.5" y="326" width="22" height="8" rx="0.4" fill="#ffffff" stroke="#d8d8d8" stroke-width="0.55"/>
<text x="165.5" y="331.2">Approval</text>
<rect x="154.5" y="343.5" width="22" height="8" rx="0.4" fill="#ffffff" stroke="#d8d8d8" stroke-width="0.55"/>
<text x="165.5" y="348.7">Dismantly</text>
<rect x="154.5" y="359" width="22" height="8" rx="0.4" fill="#ffffff" stroke="#d8d8d8" stroke-width="0.55"/>
<text x="165.5" y="364.2">Incision</text>
<rect x="154.5" y="396" width="22" height="8" rx="0.4" fill="#ffffff" stroke="#d8d8d8" stroke-width="0.55"/>
<text x="165.5" y="401.2">Reappraisal</text>
<rect x="251" y="396" width="22" height="8" rx="0.4" fill="#ffffff" stroke="#d8d8d8" stroke-width="0.55"/>
<text x="262" y="401.2">Full Lips</text>
<rect x="292" y="396" width="22" height="8" rx="0.4" fill="#ffffff" stroke="#d8d8d8" stroke-width="0.55"/>
<text x="303" y="401.2">Infuser</text>
<rect x="187" y="132" width="22" height="8" rx="0.4" fill="#ffffff" stroke="#d8d8d8" stroke-width="0.55"/>
<text x="198" y="137.2">Inspection</text>
<rect x="219.5" y="132" width="22" height="8" rx="0.4" fill="#ffffff" stroke="#d8d8d8" stroke-width="0.55"/>
<text class="b" x="230.5" y="135.9">Unloading lot</text>
<rect x="252" y="132" width="22" height="8" rx="0.4" fill="#ffffff" stroke="#d8d8d8" stroke-width="0.55"/>
<text x="263" y="137.2">Secondary product</text>
<rect x="285" y="132" width="22" height="8" rx="0.4" fill="#ffffff" stroke="#d8d8d8" stroke-width="0.55"/>
<text class="b" x="296" y="134.2">Weighed</text>
<rect x="317" y="132" width="22" height="8" rx="0.4" fill="#ffffff" stroke="#d8d8d8" stroke-width="0.55"/>
<text x="328" y="137.2">Sieve</text>
<rect x="252" y="116.5" width="22" height="8" rx="0.4" fill="#ffffff" stroke="#d8d8d8" stroke-width="0.55"/>
<text x="263" y="121.7">Shipment</text>
<rect x="219.5" y="143" width="22" height="8" rx="0.4" fill="#ffffff" stroke="#d8d8d8" stroke-width="0.55"/>
<text x="230.5" y="148.2">Repackaging</text>
<rect x="187" y="161" width="22" height="8" rx="0.4" fill="#ffffff" stroke="#d8d8d8" stroke-width="0.55"/>
<text class="b" x="198" y="164.9">Complete</text>
<rect x="219.5" y="161" width="22" height="8" rx="0.4" fill="#ffffff" stroke="#d8d8d8" stroke-width="0.55"/>
<text x="230.5" y="166.2">Palette shredder</text>
<rect x="252" y="161" width="22" height="8" rx="0.4" fill="#ffffff" stroke="#d8d8d8" stroke-width="0.55"/>
<text x="263" y="166.2">Shutters</text>
<rect x="285" y="161" width="22" height="8" rx="0.4" fill="#ffffff" stroke="#d8d8d8" stroke-width="0.55"/>
<text x="296" y="166.2">Full Range</text>
<rect x="317" y="161" width="22" height="8" rx="0.4" fill="#ffffff" stroke="#d8d8d8" stroke-width="0.55"/>
<text x="328" y="166.2">Supersieve</text>
<rect x="187" y="176" width="22" height="8" rx="0.4" fill="#ffffff" stroke="#d8d8d8" stroke-width="0.55"/>
<text class="b" x="198" y="179.9">Incoming</text>
<rect x="219.5" y="176" width="22" height="8" rx="0.4" fill="#ffffff" stroke="#d8d8d8" stroke-width="0.55"/>
<text x="230.5" y="181.2">Supply Shred</text>
<rect x="252" y="176" width="22" height="8" rx="0.4" fill="#ffffff" stroke="#d8d8d8" stroke-width="0.55"/>
<text x="263" y="181.2">Exception</text>
<rect x="285" y="176" width="22" height="8" rx="0.4" fill="#ffffff" stroke="#d8d8d8" stroke-width="0.55"/>
<text class="b" x="296" y="178.2">Sieved product</text>
<rect x="317" y="176" width="22" height="8" rx="0.4" fill="#ffffff" stroke="#d8d8d8" stroke-width="0.55"/>
<text class="b" x="328" y="178.2">Oversize</text>
<rect x="281" y="193" width="22" height="8" rx="0.4" fill="#ffffff" stroke="#d8d8d8" stroke-width="0.55"/>
<text x="292" y="198.2">Batcher</text>
<rect x="317" y="193" width="22" height="8" rx="0.4" fill="#ffffff" stroke="#d8d8d8" stroke-width="0.55"/>
<text x="328" y="198.2">Miner</text>
<rect x="349" y="193" width="22" height="8" rx="0.4" fill="#ffffff" stroke="#d8d8d8" stroke-width="0.55"/>
<text x="360" y="198.2">Disassemble</text>
<rect x="349" y="219" width="22" height="8" rx="0.4" fill="#ffffff" stroke="#d8d8d8" stroke-width="0.55"/>
<text x="360" y="224.2">Exception 3</text>
<rect x="346.5" y="140" width="30" height="8.6" rx="0.4" fill="#ffffff" stroke="#d8d8d8" stroke-width="0.55"/>
<text class="b" x="361.5" y="142.5">Granulated material</text>
<rect x="382" y="140.5" width="22" height="8" rx="0.4" fill="#ffffff" stroke="#d8d8d8" stroke-width="0.55"/>
<text x="393" y="145.7">Discovery</text>
<rect x="415" y="140.5" width="22" height="8" rx="0.4" fill="#ffffff" stroke="#d8d8d8" stroke-width="0.55"/>
<text x="426" y="145.7">Bipins</text>
<rect x="447" y="140.5" width="22" height="8" rx="0.4" fill="#ffffff" stroke="#d8d8d8" stroke-width="0.55"/>
<text x="458" y="145.7">Shipped Specs</text>
<rect x="382" y="161" width="22" height="8" rx="0.4" fill="#ffffff" stroke="#d8d8d8" stroke-width="0.55"/>
<text x="393" y="166.2">Quarant</text>
<rect x="415" y="161" width="22" height="8" rx="0.4" fill="#ffffff" stroke="#d8d8d8" stroke-width="0.55"/>
<text x="426" y="166.2">Input</text>
<rect x="447" y="161" width="22" height="8" rx="0.4" fill="#ffffff" stroke="#d8d8d8" stroke-width="0.55"/>
<text x="458" y="166.2">Shaped Input</text>
<rect x="400" y="176" width="22" height="8" rx="0.4" fill="#ffffff" stroke="#d8d8d8" stroke-width="0.55"/>
<text x="411" y="181.2">Rhubarb Bundle</text>
<rect x="382" y="193" width="22" height="8" rx="0.4" fill="#ffffff" stroke="#d8d8d8" stroke-width="0.55"/>
<text class="b" x="393" y="196.9">Mixed batch</text>
<rect x="415" y="193" width="22" height="8" rx="0.4" fill="#ffffff" stroke="#d8d8d8" stroke-width="0.55"/>
<text class="b" x="426" y="196.9">Blended</text>
<rect x="382" y="218.5" width="22" height="8" rx="0.4" fill="#ffffff" stroke="#d8d8d8" stroke-width="0.55"/>
<text class="b" x="393" y="220.7">Raw material</text>
<rect x="424.8" y="89.7" width="22" height="8.6" rx="0.4" fill="#ffffff" stroke="#d8d8d8" stroke-width="0.55"/>
<text class="b" x="435.8" y="93.9">Customer order</text>
<rect x="424.5" y="109.2" width="22" height="8" rx="0.4" fill="#ffffff" stroke="#d8d8d8" stroke-width="0.55"/>
<text x="435.5" y="114.4">Sales</text>
<rect x="424.8" y="121" width="22" height="8" rx="0.4" fill="#ffffff" stroke="#d8d8d8" stroke-width="0.55"/>
<text class="b" x="435.8" y="124.9">Forecast</text>
<rect x="479.5" y="80.5" width="22" height="8" rx="0.4" fill="#ffffff" stroke="#d8d8d8" stroke-width="0.55"/>
<text x="490.5" y="85.7">Labour Agency</text>
<rect x="509" y="90" width="22" height="8" rx="0.4" fill="#ffffff" stroke="#d8d8d8" stroke-width="0.55"/>
<text x="520" y="95.2">Department</text>
<rect x="479.5" y="109" width="22" height="8" rx="0.4" fill="#ffffff" stroke="#d8d8d8" stroke-width="0.55"/>
<text x="490.5" y="114.2">Proxy</text>
<rect x="538.8" y="80" width="22" height="8" rx="0.4" fill="#ffffff" stroke="#d8d8d8" stroke-width="0.55"/>
<text class="b" x="549.8" y="83.9">Operator</text>
<rect x="538.5" y="98.4" width="22" height="8" rx="0.4" fill="#ffffff" stroke="#d8d8d8" stroke-width="0.55"/>
<text class="b" x="549.5" y="102.3">Workstation</text>
<rect x="538" y="126" width="28" height="8" rx="0.4" fill="#ffffff" stroke="#d8d8d8" stroke-width="0.55"/>
<text x="552" y="131.2">Reinspected Product</text>
<rect x="538" y="139" width="28" height="8" rx="0.4" fill="#ffffff" stroke="#d8d8d8" stroke-width="0.55"/>
<text class="b" x="552" y="142.9">Released lot</text>
<rect x="382" y="234" width="22" height="8" rx="0.4" fill="#ffffff" stroke="#d8d8d8" stroke-width="0.55"/>
<text class="b" x="393" y="237.9">Compound</text>
<rect x="415" y="234" width="22" height="8" rx="0.4" fill="#ffffff" stroke="#d8d8d8" stroke-width="0.55"/>
<text x="426" y="239.2">Primary</text>
<rect x="447" y="234" width="22" height="8" rx="0.4" fill="#ffffff" stroke="#d8d8d8" stroke-width="0.55"/>
<text class="b" x="458" y="237.9">Extruded</text>
<rect x="479.8" y="234" width="22" height="8" rx="0.4" fill="#ffffff" stroke="#d8d8d8" stroke-width="0.55"/>
<text x="490.8" y="239.2">Whole Bundle</text>
<rect x="511.8" y="234" width="22" height="8" rx="0.4" fill="#ffffff" stroke="#d8d8d8" stroke-width="0.55"/>
<text x="522.8" y="239.2">Graphitem</text>
<rect x="538" y="234" width="28" height="8" rx="0.4" fill="#ffffff" stroke="#d8d8d8" stroke-width="0.55"/>
<text class="b" x="552" y="236.2">Finished product</text>
<rect x="510" y="193" width="28" height="8" rx="0.4" fill="#ffffff" stroke="#d8d8d8" stroke-width="0.55"/>
<text x="524" y="198.2">Whole etc Subsidiary</text>
<rect x="538" y="211.5" width="28" height="8" rx="0.4" fill="#ffffff" stroke="#d8d8d8" stroke-width="0.55"/>
<text class="b" x="552" y="213.7">Packed goods</text>
<rect x="576" y="174" width="28" height="8" rx="0.4" fill="#ffffff" stroke="#d8d8d8" stroke-width="0.55"/>
<text x="590" y="179.2">Adjourned</text>
<rect x="576" y="193" width="28" height="8" rx="0.4" fill="#ffffff" stroke="#d8d8d8" stroke-width="0.55"/>
<text x="590" y="198.2">Prospective dossier</text>
<rect x="576" y="212" width="28" height="8" rx="0.4" fill="#ffffff" stroke="#d8d8d8" stroke-width="0.55"/>
<text x="590" y="217.2">Address space</text>
<rect x="322" y="257.5" width="22" height="8" rx="0.4" fill="#ffffff" stroke="#d8d8d8" stroke-width="0.55"/>
<text x="333" y="262.7">Documentation</text>
<rect x="359" y="251.5" width="22" height="8" rx="0.4" fill="#ffffff" stroke="#d8d8d8" stroke-width="0.55"/>
<text class="b" x="370" y="255.4">Certificate</text>
<rect x="359" y="264.5" width="22" height="8" rx="0.4" fill="#ffffff" stroke="#d8d8d8" stroke-width="0.55"/>
<text x="370" y="269.7">Architecture clerk</text>
<rect x="415" y="260.5" width="22" height="8" rx="0.4" fill="#ffffff" stroke="#d8d8d8" stroke-width="0.55"/>
<text class="b" x="426" y="264.4">Scrap lot</text>
<rect x="447" y="261.5" width="22" height="8" rx="0.4" fill="#ffffff" stroke="#d8d8d8" stroke-width="0.55"/>
<text x="458" y="266.7">Scrapped plates</text>
<rect x="382" y="276.5" width="22" height="8" rx="0.4" fill="#ffffff" stroke="#d8d8d8" stroke-width="0.55"/>
<text x="393" y="281.7">Storage</text>
<rect x="415" y="276.5" width="22" height="8" rx="0.4" fill="#ffffff" stroke="#d8d8d8" stroke-width="0.55"/>
<text x="426" y="281.7">Ideal</text>
<rect x="447" y="276.5" width="22" height="8" rx="0.4" fill="#ffffff" stroke="#d8d8d8" stroke-width="0.55"/>
<text x="458" y="281.7">Show</text>
<rect x="479.8" y="276.5" width="22" height="8" rx="0.4" fill="#ffffff" stroke="#d8d8d8" stroke-width="0.55"/>
<text x="490.8" y="281.7">Shaped Bindle</text>
<rect x="511.8" y="276.5" width="22" height="8" rx="0.4" fill="#ffffff" stroke="#d8d8d8" stroke-width="0.55"/>
<text x="522.8" y="281.7">ECR</text>
<rect x="436" y="295.5" width="22" height="8" rx="0.4" fill="#ffffff" stroke="#d8d8d8" stroke-width="0.55"/>
<text x="447" y="300.7">Dispense</text>
<rect x="464" y="295.5" width="22" height="8" rx="0.4" fill="#ffffff" stroke="#d8d8d8" stroke-width="0.55"/>
<text class="b" x="475" y="299.4">Dosage</text>
<rect x="513" y="295.5" width="22" height="8" rx="0.4" fill="#ffffff" stroke="#d8d8d8" stroke-width="0.55"/>
<text x="524" y="300.7">Rework</text>
<rect x="377" y="309" width="22" height="8" rx="0.4" fill="#ffffff" stroke="#d8d8d8" stroke-width="0.55"/>
<text x="388" y="314.2">Dispose</text>
<rect x="404" y="309" width="22" height="8" rx="0.4" fill="#ffffff" stroke="#d8d8d8" stroke-width="0.55"/>
<text class="b" x="415" y="312.9">Waste lot</text>
<rect x="463" y="325" width="22" height="8" rx="0.4" fill="#ffffff" stroke="#d8d8d8" stroke-width="0.55"/>
<text x="474" y="330.2">Plan</text>
<rect x="513" y="325" width="22" height="8" rx="0.4" fill="#ffffff" stroke="#d8d8d8" stroke-width="0.55"/>
<text class="b" x="524" y="328.9">Schedule</text>
<rect x="541" y="276.5" width="22" height="8" rx="0.4" fill="#ffffff" stroke="#d8d8d8" stroke-width="0.55"/>
<text x="552" y="281.7">Downstream CIP</text>
<rect x="568" y="261" width="22" height="8" rx="0.4" fill="#ffffff" stroke="#d8d8d8" stroke-width="0.55"/>
<text class="b" x="579" y="264.9">Work order</text>
<rect x="600.5" y="246" width="22" height="8" rx="0.4" fill="#ffffff" stroke="#d8d8d8" stroke-width="0.55"/>
<text class="b" x="611.5" y="249.9">Complete it</text>
<rect x="600.5" y="262" width="22" height="8" rx="0.4" fill="#ffffff" stroke="#d8d8d8" stroke-width="0.55"/>
<text x="611.5" y="267.2">Production WIP</text>
<rect x="600.5" y="277" width="22" height="8" rx="0.4" fill="#ffffff" stroke="#d8d8d8" stroke-width="0.55"/>
<text x="611.5" y="282.2">Inspection WIP</text>
<rect x="649" y="278.5" width="22" height="8" rx="0.4" fill="#ffffff" stroke="#d8d8d8" stroke-width="0.55"/>
<text x="660" y="283.7">Mediocre (coll)</text>
<rect x="623" y="217" width="22" height="8" rx="0.4" fill="#ffffff" stroke="#d8d8d8" stroke-width="0.55"/>
<text class="b" x="634" y="220.9">Calibrated</text>
<rect x="633" y="241.2" width="22" height="9.6" rx="0.4" fill="#ffffff" stroke="#d8d8d8" stroke-width="0.55"/>
<text class="b" x="644" y="244.2">Instrument</text>
<rect x="656.5" y="200" width="27" height="8" rx="0.4" fill="#ffffff" stroke="#d8d8d8" stroke-width="0.55"/>
<text class="b" x="670" y="203.9">Vendor invoice</text>
<rect x="656.5" y="219" width="27" height="8" rx="0.4" fill="#ffffff" stroke="#d8d8d8" stroke-width="0.55"/>
<text class="b" x="670" y="222.9">Vendor record</text>
<rect x="702.5" y="199.5" width="27" height="8" rx="0.4" fill="#ffffff" stroke="#d8d8d8" stroke-width="0.55"/>
<text class="b" x="716" y="201.7">Customer account</text>
<rect x="702.5" y="218.5" width="27" height="8" rx="0.4" fill="#ffffff" stroke="#d8d8d8" stroke-width="0.55"/>
<text class="b" x="716" y="220.7">Customer contract</text>
<rect x="736.5" y="192.75" width="27" height="7.5" rx="0.4" fill="#ffffff" stroke="#d8d8d8" stroke-width="0.55"/>
<text class="b" x="750" y="196.4">Purchase requisition</text>
<rect x="736.5" y="207" width="27" height="9" rx="0.4" fill="#ffffff" stroke="#d8d8d8" stroke-width="0.55"/>
<text class="b" x="750" y="209.7">Purchase order</text>
<rect x="736.5" y="219.25" width="27" height="8.5" rx="0.4" fill="#ffffff" stroke="#d8d8d8" stroke-width="0.55"/>
<text class="b" x="750" y="221.7">Purchase delivery</text>
<rect x="734" y="245.3" width="22" height="9" rx="0.4" fill="#ffffff" stroke="#d8d8d8" stroke-width="0.55"/>
<text class="b" x="745" y="248">Allocation</text>
<rect x="748" y="266" width="22" height="8" rx="0.4" fill="#ffffff" stroke="#d8d8d8" stroke-width="0.55"/>
<text x="759" y="271.2">(In Stock)</text>
<rect x="705.1" y="278.5" width="22.6" height="7.6" rx="0.4" fill="#d3e9f0" stroke="#b5d3dc" stroke-width="0.55"/>
<text class="b" x="716.4" y="282.8">Stock item</text>
<rect x="752" y="283" width="22" height="8" rx="0.4" fill="#ffffff" stroke="#d8d8d8" stroke-width="0.55"/>
<text x="763" y="288.2">Condition</text>
<rect x="689" y="296" width="22" height="8" rx="0.4" fill="#ffffff" stroke="#d8d8d8" stroke-width="0.55"/>
<text x="700" y="301.2">Foresee it</text>
<rect x="727" y="298" width="22" height="9" rx="0.4" fill="#ffffff" stroke="#d8d8d8" stroke-width="0.55"/>
<text x="738" y="303.7">Procreation</text>
<rect x="782.5" y="296" width="22" height="8" rx="0.4" fill="#ffffff" stroke="#d8d8d8" stroke-width="0.55"/>
<text class="b" x="793.5" y="299.9">Archive</text>
<rect x="814" y="296" width="22" height="8" rx="0.4" fill="#ffffff" stroke="#d8d8d8" stroke-width="0.55"/>
<text class="b" x="825" y="299.9">Update</text>
<rect x="782.5" y="310" width="22" height="8" rx="0.4" fill="#ffffff" stroke="#d8d8d8" stroke-width="0.55"/>
<text x="793.5" y="315.2">Archived WIP</text>
<rect x="814" y="310" width="22" height="8" rx="0.4" fill="#ffffff" stroke="#d8d8d8" stroke-width="0.55"/>
<text x="825" y="315.2">Ready for Update</text>
<rect x="798.5" y="321.5" width="22" height="8" rx="0.4" fill="#ffffff" stroke="#d8d8d8" stroke-width="0.55"/>
<text x="809.5" y="326.7">Ready of WIP</text>
<rect x="705" y="324.5" width="22" height="8" rx="0.4" fill="#ffffff" stroke="#d8d8d8" stroke-width="0.55"/>
<text x="716" y="329.7">Released WIP</text>
<rect x="737.5" y="323.5" width="22" height="9" rx="0.4" fill="#ffffff" stroke="#d8d8d8" stroke-width="0.55"/>
<text class="b" x="748.5" y="327.9">Release</text>
<rect x="737.5" y="341" width="22" height="9" rx="0.4" fill="#ffffff" stroke="#d8d8d8" stroke-width="0.55"/>
<text class="b" x="748.5" y="345.4">Reserve</text>
<rect x="716" y="354" width="26" height="9" rx="0.4" fill="#ffffff" stroke="#d8d8d8" stroke-width="0.55"/>
<text class="b" x="729" y="358.4">Reservation order</text>
<rect x="649.5" y="312" width="22" height="8" rx="0.4" fill="#ffffff" stroke="#d8d8d8" stroke-width="0.55"/>
<text class="b" x="660.5" y="315.9">Inspected</text>
<rect x="554" y="319" width="22" height="8" rx="0.4" fill="#ffffff" stroke="#d8d8d8" stroke-width="0.55"/>
<text x="565" y="324.2">Binary binary</text>
<rect x="582.5" y="319" width="22" height="8" rx="0.4" fill="#ffffff" stroke="#d8d8d8" stroke-width="0.55"/>
<text x="593.5" y="324.2">Sheetalone</text>
<rect x="627.5" y="329.5" width="22" height="8" rx="0.4" fill="#ffffff" stroke="#d8d8d8" stroke-width="0.55"/>
<text x="638.5" y="334.7">Ready for market</text>
<rect x="649.5" y="337" width="22" height="8" rx="0.4" fill="#ffffff" stroke="#d8d8d8" stroke-width="0.55"/>
<text class="b" x="660.5" y="340.9">Marketed</text>
<rect x="630.5" y="345" width="19" height="7" rx="0.4" fill="#ffffff" stroke="#d8d8d8" stroke-width="0.55"/>
<text class="b" x="640" y="348.4">Promoted</text>
<rect x="679" y="336" width="22" height="9" rx="0.4" fill="#ffffff" stroke="#d8d8d8" stroke-width="0.55"/>
<text class="b" x="690" y="340.4">Delivered</text>
<rect x="541" y="338" width="22" height="8" rx="0.4" fill="#ffffff" stroke="#d8d8d8" stroke-width="0.55"/>
<text x="552" y="343.2">Transience</text>
<rect x="512" y="353" width="24" height="7" rx="0.4" fill="#ffffff" stroke="#d8d8d8" stroke-width="0.55"/>
<text x="524" y="357.7">Agglomerate Grade</text>
<rect x="458" y="359" width="22" height="8" rx="0.4" fill="#ffffff" stroke="#d8d8d8" stroke-width="0.55"/>
<text x="469" y="364.2">Balance</text>
<rect x="485" y="359" width="20" height="8" rx="0.4" fill="#ffffff" stroke="#d8d8d8" stroke-width="0.55"/>
<text x="495" y="364.2">Input</text>
<rect x="514" y="371.5" width="22" height="8" rx="0.4" fill="#ffffff" stroke="#d8d8d8" stroke-width="0.55"/>
<text x="525" y="376.7">Margerite</text>
<rect x="458" y="378" width="22" height="8" rx="0.4" fill="#ffffff" stroke="#d8d8d8" stroke-width="0.55"/>
<text x="469" y="383.2">Preparations</text>
<rect x="458" y="396.5" width="22" height="8" rx="0.4" fill="#ffffff" stroke="#d8d8d8" stroke-width="0.55"/>
<text x="469" y="401.7">Excerst base</text>
<rect x="566.5" y="368.25" width="22" height="7.5" rx="0.4" fill="#ffffff" stroke="#d8d8d8" stroke-width="0.55"/>
<text class="b" x="577.5" y="371.9">Graded</text>
<rect x="594" y="368" width="22" height="8" rx="0.4" fill="#ffffff" stroke="#d8d8d8" stroke-width="0.55"/>
<text x="605" y="373.2">Backdrop</text>
<rect x="649.5" y="367" width="22" height="8" rx="0.4" fill="#ffffff" stroke="#d8d8d8" stroke-width="0.55"/>
<text class="b" x="660.5" y="370.9">Grade one</text>
<rect x="649.5" y="383" width="22" height="8" rx="0.4" fill="#ffffff" stroke="#d8d8d8" stroke-width="0.55"/>
<text class="b" x="660.5" y="386.9">Grade two</text>
<rect x="617" y="382.55" width="23" height="6.5" rx="0.4" fill="#ffffff" stroke="#d8d8d8" stroke-width="0.55"/>
<text x="628.5" y="387">Normalised Grade 1</text>
<rect x="541" y="384" width="22" height="8" rx="0.4" fill="#ffffff" stroke="#d8d8d8" stroke-width="0.55"/>
<text x="552" y="389.2">Defunct</text>
<rect x="498" y="395" width="22" height="7" rx="0.4" fill="#ffffff" stroke="#d8d8d8" stroke-width="0.55"/>
<text x="509" y="399.7">Transporter</text>
<rect x="498" y="407" width="22" height="7" rx="0.4" fill="#ffffff" stroke="#d8d8d8" stroke-width="0.55"/>
<text x="509" y="411.7">Transport</text>
<rect x="498" y="418.55" width="22" height="7.5" rx="0.4" fill="#ffffff" stroke="#d8d8d8" stroke-width="0.55"/>
<text x="509" y="423.5">Reaprilst</text>
<rect x="526" y="405.5" width="22" height="8" rx="0.4" fill="#ffffff" stroke="#d8d8d8" stroke-width="0.55"/>
<text class="b" x="537" y="409.4">Carrier</text>
<rect x="556" y="408" width="22" height="8" rx="0.4" fill="#ffffff" stroke="#d8d8d8" stroke-width="0.55"/>
<text x="567" y="413.2">Target 3rd Sinter</text>
<rect x="584" y="408" width="22" height="8" rx="0.4" fill="#ffffff" stroke="#d8d8d8" stroke-width="0.55"/>
<text x="595" y="413.2">Dif Substitute</text>
<rect x="556" y="426.75" width="22" height="7.5" rx="0.4" fill="#ffffff" stroke="#d8d8d8" stroke-width="0.55"/>
<text x="567" y="431.7">Frieden</text>
<rect x="556" y="441" width="22" height="8" rx="0.4" fill="#ffffff" stroke="#d8d8d8" stroke-width="0.55"/>
<text x="567" y="446.2">Collision</text>
</g>
<path fill="#4a4a4a" d="M566 366.4l1 1.7l-2 0ZM594.4 366.1l1 1.7l-2 0ZM617.4 380.4l1 1.7l-2 0ZM556.5 425.1l1 1.7l-2 0ZM556.5 439.4l1 1.7l-2 0ZM556.5 405.9l1 1.7l-2 0ZM584.5 405.9l1 1.7l-2 0ZM541 337.1l1 1.7l-2 0Z"/>
</svg>
</body>
</html>
